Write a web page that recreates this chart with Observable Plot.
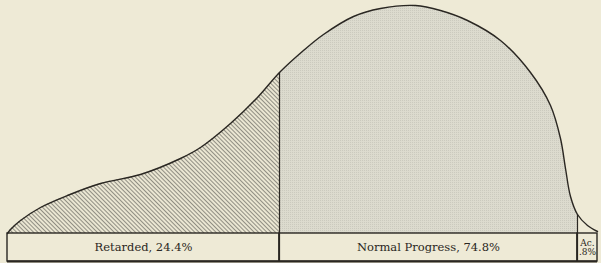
<!DOCTYPE html>
<html>
<head>
<meta charset="utf-8">
<script src="https://cdn.jsdelivr.net/npm/d3@7"></script>
<script src="https://cdn.jsdelivr.net/npm/@observablehq/plot@0.6"></script>
<style>
  html, body { margin: 0; padding: 0; background: #eeead6; }
  #chart svg { display: block; }
</style>
</head>
<body>
<div id="chart"></div>
<script>
// Curve outline: position along the base (0..590) and height above the base
const curveX = [0, 3, 13, 33, 60, 93, 133, 173, 193, 223, 250, 272, 296, 316, 346, 373, 408, 433, 460, 493, 523, 543, 553, 558, 563, 570, 580, 590];
const curveH = [0, 4, 13, 26, 38, 50, 59, 75, 86, 110, 136, 161, 183, 199, 217, 225, 228, 223, 213, 193, 161, 128, 95, 65, 37, 19, 8, 2];

// Groups along the base
const groupLabels = ["Retarded, 24.4%", "Normal Progress, 74.8%", "Ac.\n.8%"];
const groupStart = [0, 272, 570];
const groupEnd = [272, 570, 590];
const groupFill = ["url(#hatch)", "url(#stipple)", "none"];

const curve = curveX.map((x, i) => ({x, h: curveH[i]}));
const groups = groupLabels.map((label, i) => ({
  label, x1: groupStart[i], x2: groupEnd[i], fill: groupFill[i],
  top: curve.find(d => d.x === groupStart[i])?.h ?? 0
}));

const ink = "#2a2722";
const boxTop = 0, boxBottom = -28;

const plot = Plot.plot({
  width: 601,
  height: 263,
  marginLeft: 7,
  marginRight: 4,
  marginTop: 0,
  marginBottom: 2,
  x: {domain: [0, 590], axis: null},
  y: {domain: [boxBottom, 233], axis: null},
  style: {background: "#eeead6"},
  marks: [
    // shaded regions under the curve
    ...groups.filter(g => g.fill !== "none").map(g =>
      Plot.areaY(curve.filter(d => d.x >= g.x1 && d.x <= g.x2), {
        x: "x", y1: 0, y2: "h", fill: g.fill, curve: "catmull-rom"
      })
    ),
    // dividers up to the curve
    Plot.ruleX(groups.slice(1), {x: "x1", y1: boxBottom, y2: "top", stroke: ink, strokeWidth: 1.2}),
    // outline of the curve
    Plot.line(curve, {x: "x", y: "h", curve: "catmull-rom", stroke: ink, strokeWidth: 1.4}),
    // label boxes
    Plot.rect(groups, {x1: "x1", x2: "x2", y1: boxBottom, y2: boxTop, stroke: ink, strokeWidth: 1.4, fill: "none"}),
    Plot.ruleY([boxBottom], {x1: 0, x2: 590, stroke: ink, strokeWidth: 2}),
    // labels
    Plot.text(groups.slice(0, 2), {
      x: d => (d.x1 + d.x2) / 2, y: (boxTop + boxBottom) / 2, text: "label",
      fontSize: 11.5, fill: ink, fontFamily: "DejaVu Serif, serif"
    }),
    Plot.text(groups.slice(2), {
      x: d => (d.x1 + d.x2) / 2, y: (boxTop + boxBottom) / 2, text: "label",
      fontSize: 9, lineHeight: 1.05, fill: ink, fontFamily: "DejaVu Serif, serif"
    })
  ]
});

// fill patterns for the two shaded regions
const ns = "http://www.w3.org/2000/svg";
const defs = document.createElementNS(ns, "defs");
defs.innerHTML = `
  <pattern id="hatch" patternUnits="userSpaceOnUse" width="3" height="3" patternTransform="rotate(-45)">
    <rect width="3" height="3" fill="#eae6d2"></rect>
    <line x1="0.5" y1="0" x2="0.5" y2="3" stroke="#86847b" stroke-width="0.9"></line>
  </pattern>
  <pattern id="stipple" patternUnits="userSpaceOnUse" width="2" height="2">
    <rect width="2" height="2" fill="#dcdbce"></rect>
    <rect width="1" height="1" fill="#cbcabe"></rect>
  </pattern>`;
plot.insertBefore(defs, plot.firstChild);
document.getElementById("chart").append(plot);
</script>
</body>
</html>
